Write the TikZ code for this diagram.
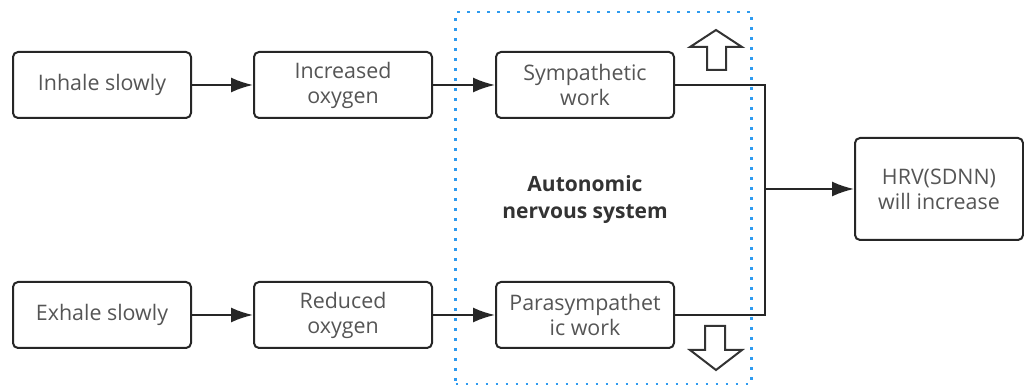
\documentclass[tikz,border=0pt]{standalone}
\usepackage{fontspec}
\setmainfont{Open Sans}
\usetikzlibrary{arrows.meta,positioning,calc}

\definecolor{txtgray}{HTML}{555555}
\definecolor{boxblue}{HTML}{2E9BF0}

\begin{document}
\begin{tikzpicture}[>=Latex,x=0.5pt,y=-0.5pt,semithick]
	\tikzset{block/.style = {shape=rectangle,draw=black!85,line width=1pt,rounded corners=2.5pt,fill=white,
		minimum width=89pt,minimum height=33pt,align=center,text=txtgray,font=\fontsize{10.7}{12.5}\selectfont}}
	\tikzset{edge/.style = {-{Latex[length=11pt,width=7.5pt]},line width=1pt,draw=black!85}}
	\tikzset{hollow/.style = {draw=black!80,line width=1pt,fill=white,line join=miter}}
	\useasboundingbox (0,0) rectangle (1024,389);
	% dotted frame
	\node[draw=boxblue,dash pattern=on 1.4pt off 3.6pt,line width=1.4pt,minimum width=148pt,minimum height=186pt] (ans) at (603.5,198) {};
	\node[font=\bfseries\fontsize{10.5}{13.5}\selectfont,text=black!80,align=center] (label) at (585,200) {Autonomic\\nervous system};
	% vertices
	\node[block] (inhale) at (102,85) {Inhale slowly};
	\node[block] (incox) at (343,85) {Increased\\oxygen};
	\node[block] (symp) at (585,85) {Sympathetic\\work};
	\node[block] (exhale) at (102,315) {Exhale slowly};
	\node[block] (redox) at (343,315) {Reduced\\oxygen};
	\node[block] (para) at (585,315) {Parasympathet\\ic work};
	\node[block,minimum width=84pt,minimum height=51pt] (hrv) at (939,189) {HRV(SDNN)\\will increase};
	\coordinate (jtop) at (765,85);
	\coordinate (jbot) at (765,315);
	\coordinate (jmid) at (765,189);
	% edges
	\path (inhale) edge[edge] (incox);
	\path (incox) edge[edge] (symp);
	\path (exhale) edge[edge] (redox);
	\path (redox) edge[edge] (para);
	\draw[line width=1pt,draw=black!85] (symp.east) -- (jtop) -- (jbot) -- (para.east);
	\path (jmid) edge[edge] (hrv);
	% up / down hollow arrows
	\draw[hollow] (707,70) -- (707,47) -- (690,47) -- (716,30) -- (742,47) -- (726,47) -- (726,70) -- cycle;
	\draw[hollow] (705,326) -- (705,350) -- (690,350) -- (716,370) -- (742,350) -- (725,350) -- (725,326) -- cycle;
\end{tikzpicture}
\end{document}
